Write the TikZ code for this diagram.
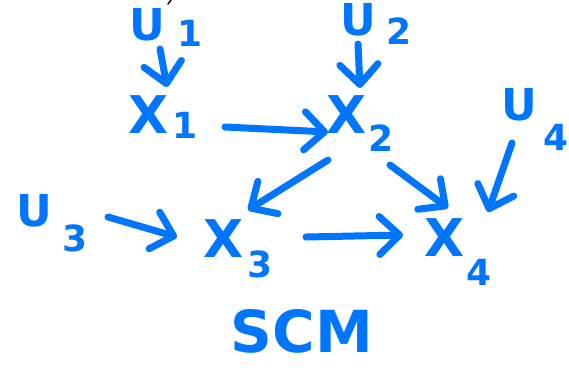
\documentclass[tikz,border=0pt]{standalone}
\usepackage{fontspec}
\setmainfont{DejaVu Sans}
\usetikzlibrary{arrows.meta}
\definecolor{ink}{RGB}{0,118,255}
% lowered index digit: optional drop below the baseline, then the digit
\newcommand\idx[3][14pt]{\hspace{#2}\raisebox{-#1}{\fontsize{36}{36}\selectfont #3}}
\begin{document}
\begin{tikzpicture}[x=1pt,y=-1pt,
  var/.style={text=ink, inner sep=0pt, font=\bfseries\fontsize{44}{44}\selectfont},
  obs/.style={var, font=\bfseries\fontsize{52}{52}\selectfont},
  title/.style={text=ink, inner sep=0pt, font=\bfseries\fontsize{58}{58}\selectfont},
  edge/.style={draw=ink, line width=7pt, line cap=round, line join=round,
    -{Straight Barb[length=20pt,width=38pt,round]}},
]
\useasboundingbox (0,0) rectangle (569,380);

% exogenous noise terms
\node[var] (u1) at (166,27)  {U\idx[6pt]{12pt}{1}};
\node[var] (u2) at (376,24)  {U\idx[9pt]{10pt}{2}};
\node[var] (u3) at (52,223)  {U\idx[25pt]{10pt}{3}};
\node[var] (u4) at (535,119) {U\idx[30pt]{6pt}{4}};

% endogenous variables
\node[obs] (x1) at (163,117) {X\idx[5pt]{3pt}{1}};
\node[obs] (x2) at (360,124) {X\idx[18pt]{2pt}{2}};
\node[obs] (x3) at (238,249) {X\idx[20pt]{4pt}{3}};
\node[obs] (x4) at (458,252) {X\idx[29pt]{2pt}{4}};

\node[title] (scm) at (302,331) {SCM};

% causal edges
\draw[edge] ([shift={(-6,22)}]u1.center) -- ([shift={(4,-30)}]x1.center);
\draw[edge] ([shift={(-18,20)}]u2.center) -- ([shift={(0,-36)}]x2.center);
\draw[edge] ([shift={(56,-6)}]u3.center) -- ([shift={(-61,-12)}]x3.center);
\draw[edge] ([shift={(-23,24)}]u4.center) -- ([shift={(30,-40)}]x4.center);
\draw[edge] ([shift={(62,10)}]x1.center) -- ([shift={(-32,8)}]x2.center);
\draw[edge] ([shift={(-32,36)}]x2.center) -- ([shift={(10,-39)}]x3.center);
\draw[edge] ([shift={(30,41)}]x2.center) -- ([shift={(-10,-44)}]x4.center);
\draw[edge] ([shift={(68,-12)}]x3.center) -- ([shift={(-55,-17)}]x4.center);

% small pen mark at the top edge
\draw[line width=1.5pt, line cap=round] (168,4) -- (171,0);
\end{tikzpicture}
\end{document}
